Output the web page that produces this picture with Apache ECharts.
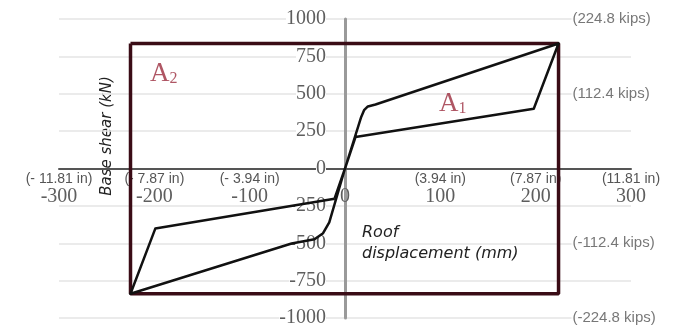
<!DOCTYPE html>
<html>
<head>
<meta charset="utf-8">
<script src="https://cdn.jsdelivr.net/npm/echarts@6/dist/echarts.min.js"></script>
<style>html,body{margin:0;padding:0;background:#fff}#c{width:684px;height:330px}</style>
</head>
<body>
<div id="c"></div>
<script>
// Axis ticks
var xTicks = [-300, -200, -100, 0, 100, 200, 300];
var xInchLabels = ['(- 11.81 in)', '(- 7.87 in)', '(- 3.94 in)', '', '(3.94 in)', '(7.87 in)', '(11.81 in)'];
var yTicks = [-1000, -750, -500, -250, 0, 250, 500, 750, 1000];
// Kips labels (value in kN, text)
var kipsValues = [1000, 500, -500, -1000];
var kipsLabels = ['(224.8 kips)', '(112.4 kips)', '(-112.4 kips)', '(-224.8 kips)'];
var kipsAnchorX = 237.5;
// Idealised bounding rectangle
var rectDisp = [-225, 224, 224, -225, -225];
var rectShear = [836, 836, -838, -838, 836];
// Hysteresis loop
var loopDisp  = [-11, 0, 11, 198, 224, 32, 24, 20, 17, 0, -16.5, -23, -32, -56, -225, -199, -11];
var loopShear = [-202, 0, 210, 400, 836, 428, 415, 390, 345, 0, -360, -433, -473, -502, -838, -402, -202];
// Area labels
var areaNames = ['A', 'A'];
var areaSubs = ['2', '1'];
var areaDisp = [-190, 113];
var areaShear = [633, 433];

function zip(a, b) { return a.map(function (v, i) { return [v, b[i]]; }); }

var G = { left: 59, right: 53, top: 19, bottom: 12 };
var W = 684 - G.left - G.right, H = 330 - G.top - G.bottom;

var chart = echarts.init(document.getElementById('c'));
chart.setOption({
  animation: false,
  backgroundColor: '#fff',
  grid: { left: G.left, right: G.right, top: G.top, bottom: G.bottom, containLabel: false, outerBoundsMode: 'none' },
  xAxis: {
    type: 'value', min: -300, max: 300, interval: 100, position: 'bottom',
    offset: -H / 2,
    axisLine: { onZero: false, lineStyle: { color: '#555', width: 2 } },
    axisTick: { show: false },
    splitLine: { show: false },
    axisLabel: {
      margin: 3, showMinLabel: true, showMaxLabel: true,
      formatter: function (v) {
        var i = xTicks.indexOf(v);
        var inch = i >= 0 && xInchLabels[i] ? xInchLabels[i] : ' ';
        return '{a|' + inch + '}\n{b|' + v + '}';
      },
      rich: {
        a: { fontFamily: 'Liberation Sans', fontSize: 14, color: '#555', lineHeight: 15 },
        b: { fontFamily: 'Liberation Serif', fontSize: 20, color: '#5e5e5e', lineHeight: 20 }
      }
    }
  },
  yAxis: {
    type: 'value', min: -1000, max: 1000, interval: 250, position: 'left',
    offset: -W / 2,
    axisLine: { onZero: false, lineStyle: { color: '#9a9a9a', width: 3 } },
    axisTick: { show: false },
    splitLine: { show: true, lineStyle: { color: '#e4e4e4', width: 1.5 } },
    axisLabel: {
      margin: 19, showMinLabel: true, showMaxLabel: true,
      formatter: function (v) { return String(v); },
      fontFamily: 'Liberation Serif', fontSize: 20, color: '#5e5e5e',
      backgroundColor: '#fff'
    }
  },
  graphic: [
    {
      type: 'text', x: 107, y: 136, rotation: Math.PI / 2,
      style: {
        text: 'Base shear (kN)', fill: '#222', align: 'center', verticalAlign: 'middle',
        fontStyle: 'italic', fontSize: 15, fontFamily: 'DejaVu Sans'
      }
    },
    {
      type: 'text', x: 362, y: 222,
      style: {
        text: 'Roof\ndisplacement (mm)', fill: '#222', align: 'left', verticalAlign: 'top',
        fontStyle: 'italic', fontSize: 16, fontFamily: 'DejaVu Sans', lineHeight: 21
      }
    }
  ],
  series: [
    {
      type: 'line', data: zip(rectDisp, rectShear), symbol: 'none', z: 3,
      lineStyle: { color: '#3a0c16', width: 3.5 }
    },
    {
      type: 'line', data: zip(loopDisp, loopShear), symbol: 'none', z: 4,
      lineStyle: { color: '#111', width: 2.5, join: 'round' }
    },
    {
      type: 'scatter', symbolSize: 0, z: 5,
      data: kipsValues.map(function (v, i) { return { value: [kipsAnchorX, v], name: kipsLabels[i] }; }),
      label: {
        show: true, position: 'right', distance: 0,
        formatter: function (p) { return p.name; },
        fontFamily: 'Liberation Sans', fontSize: 15, color: '#555',
        backgroundColor: '#fff', padding: [1, 1]
      }
    },
    {
      type: 'scatter', symbolSize: 0, z: 5,
      data: areaDisp.map(function (x, i) { return { value: [x, areaShear[i]], name: areaNames[i], sub: areaSubs[i] }; }),
      label: {
        show: true, position: 'inside',
        formatter: function (p) { return '{a|' + p.data.name + '}{s|' + p.data.sub + '}'; },
        rich: {
          a: { fontFamily: 'Liberation Serif', fontSize: 27, color: '#9b2c3d', lineHeight: 28 },
          s: { fontFamily: 'Liberation Serif', fontSize: 16, color: '#9b2c3d', lineHeight: 28, padding: [10, 0, 0, 0] }
        }
      }
    }
  ]
});
</script>
</body>
</html>
